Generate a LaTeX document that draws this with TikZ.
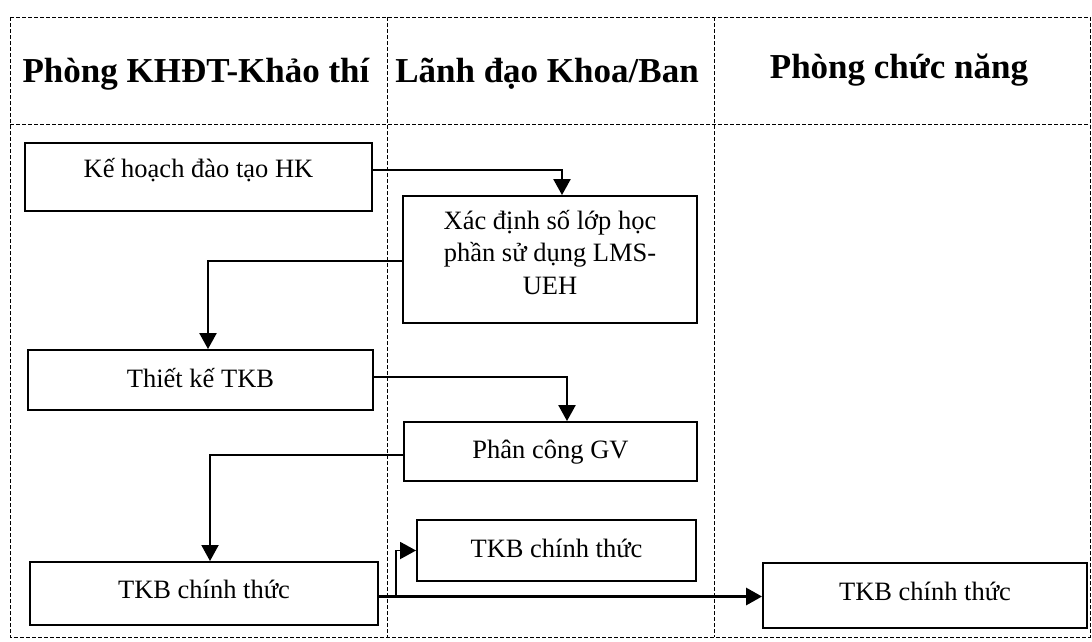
\documentclass[tikz,border=0pt]{standalone}
\usepackage{fontspec}
\setmainfont{Liberation Serif}
\usetikzlibrary{arrows.meta}

\begin{document}
\begin{tikzpicture}[
    x=1pt, y=-1pt,
    >={Triangle[length=16pt,width=17pt]},
    lane/.style={dash pattern=on 4pt off 2pt, line width=0.9pt},
    head/.style={anchor=base, font=\fontsize{35}{40}\selectfont\bfseries},
    box/.style={draw, line width=1.9pt, inner sep=0pt, anchor=base,
        font=\fontsize{26.5}{32.5}\selectfont},
    arrow/.style={->, line width=2.3pt}
]
\useasboundingbox (0,0) rectangle (1092,641);

% khung các làn
\draw[lane] (10,17) rectangle (1090,637);
\draw[lane] (10,124) -- (1090,124);
\draw[lane] (387,17) -- (387,637);
\draw[lane] (714,17) -- (714,637);

% tiêu đề làn
\node[head] (H1) at (196,82) {Phòng KHĐT-Khảo thí};
\node[head] (H2) at (547,82) {Lãnh đạo Khoa/Ban};
\node[head] (H3) at (899,78) {Phòng chức năng};

% các bước
\node[box,minimum width=347pt,text height=34pt,text depth=34pt] (KH) at (198.5,177) {Kế hoạch đào tạo HK};
\node[box,minimum width=294pt,minimum height=127pt,anchor=center] (XD) at (550,259.5)
    {\raisebox{-2pt}[0pt][0pt]{\begin{tabular}{@{}c@{}}Xác định số lớp học\\phần sử dụng LMS-\\UEH\end{tabular}}};
\node[box,minimum width=345pt,text height=37pt,text depth=23pt] (TK) at (200.5,387) {Thiết kế TKB};
\node[box,minimum width=293pt,text height=36pt,text depth=23pt] (PC) at (550.5,458) {Phân công GV};
\node[box,minimum width=279pt,text height=37pt,text depth=24pt] (CT2) at (556.5,557) {TKB chính thức};
\node[box,minimum width=348pt,text height=36pt,text depth=27pt] (CT1) at (204,598) {TKB chính thức};
\node[box,minimum width=324pt,text height=37pt,text depth=28pt] (CT3) at (925,600) {TKB chính thức};

% mũi tên
\draw[arrow] ([yshift=7pt]KH.east) -| ([xshift=12pt]XD.north);
\draw[arrow] ([yshift=-1.5pt]XD.west) -| ([xshift=7.5pt]TK.north);
\draw[arrow] ([yshift=3pt]TK.east) -| ([xshift=16.5pt]PC.north);
\draw[arrow,line width=1.9pt] ([yshift=-3.5pt]PC.west) -| ([xshift=6pt]CT1.north);
\coordinate (S) at ([yshift=-3pt]CT1.east);
\draw[arrow,line width=3pt] (S) -- (S -| CT3.west);
\draw[arrow,line width=1.9pt] ([xshift=17pt]S) |- (CT2.west);

\end{tikzpicture}
\end{document}
